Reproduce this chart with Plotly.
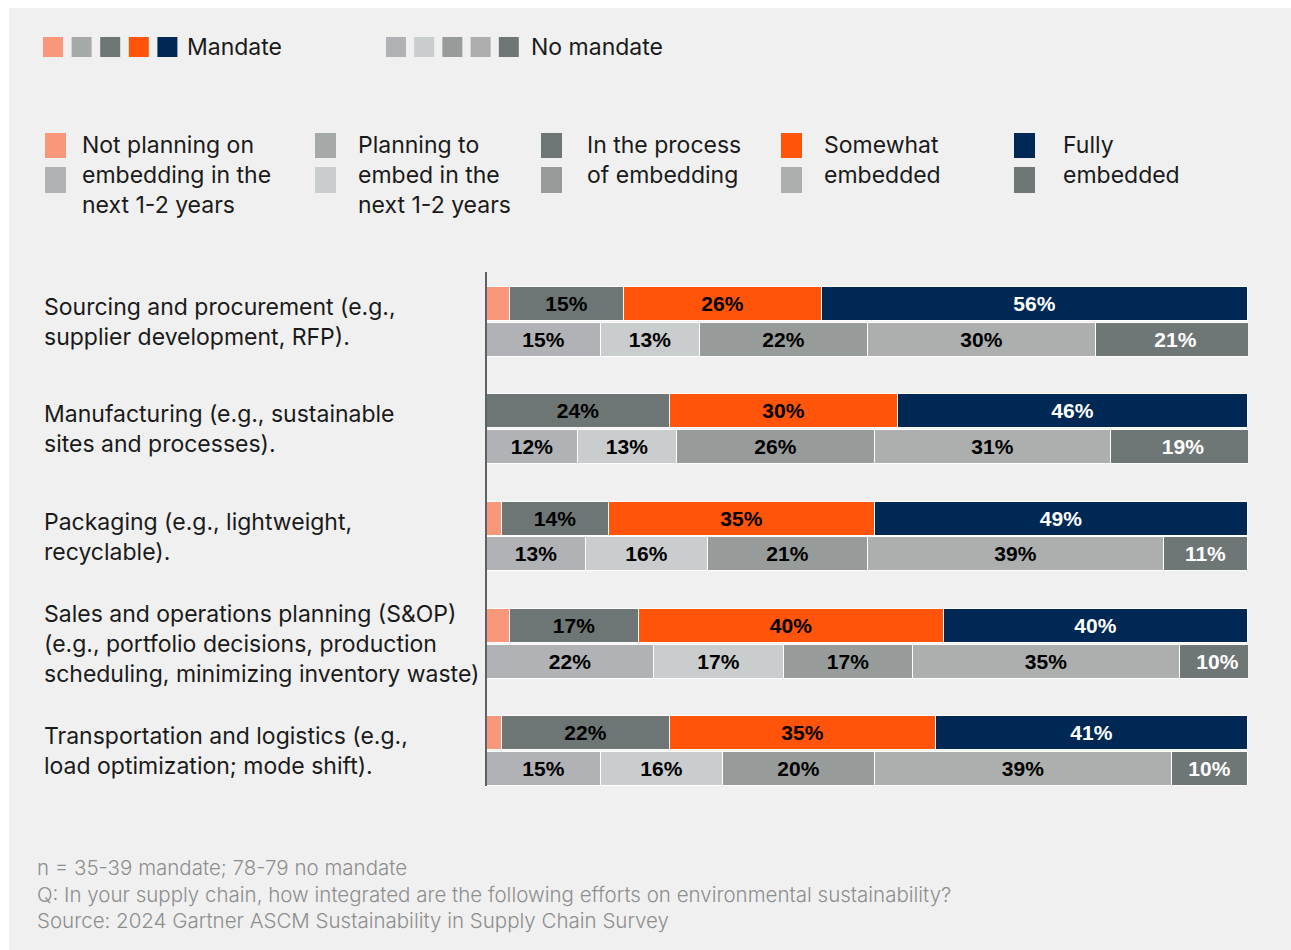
import plotly.graph_objects as go

# ---- data ----
categories = [
    "Sourcing and procurement (e.g.,<br>supplier development, RFP).",
    "Manufacturing (e.g., sustainable<br>sites and processes).",
    "Packaging (e.g., lightweight,<br>recyclable).",
    "Sales and operations planning (S&OP)<br>(e.g., portfolio decisions, production<br>scheduling, minimizing inventory waste)",
    "Transportation and logistics (e.g.,<br>load optimization; mode shift).",
]
statuses = ["Not planning on embedding in the next 1-2 years",
            "Planning to embed in the next 1-2 years",
            "In the process of embedding",
            "Somewhat embedded",
            "Fully embedded"]

# Mandate respondents (% per status, per category)
mandate_not_planning = [3, 0, 2, 3, 2]
mandate_planning = [0, 0, 0, 0, 0]
mandate_in_process = [15, 24, 14, 17, 22]
mandate_somewhat = [26, 30, 35, 40, 35]
mandate_fully = [56, 46, 49, 40, 41]

# No-mandate respondents
nomandate_not_planning = [15, 12, 13, 22, 15]
nomandate_planning = [13, 13, 16, 17, 16]
nomandate_in_process = [22, 26, 21, 17, 20]
nomandate_somewhat = [30, 31, 39, 35, 39]
nomandate_fully = [21, 19, 11, 10, 10]

legend_labels = ["Not planning on<br>embedding in the<br>next 1-2 years",
                 "Planning to<br>embed in the<br>next 1-2 years",
                 "In the process<br>of embedding",
                 "Somewhat<br>embedded",
                 "Fully<br>embedded"]

footer_lines = [
    "n = 35-39 mandate; 78-79 no mandate",
    "Q: In your supply chain, how integrated are the following efforts on environmental sustainability?",
    "Source: 2024 Gartner ASCM Sustainability in Supply Chain Survey",
]

# ---- styling ----
mandate_colors = ["#F9977A", "#A5A9A8", "#6E7675", "#FF540A", "#002855"]
nomandate_colors = ["#B1B2B5", "#CACDCE", "#979C9B", "#ACAFAE", "#6F7676"]
mandate_text_colors = ["#000000", "#000000", "#000000", "#000000", "#FFFFFF"]
nomandate_text_colors = ["#000000", "#000000", "#000000", "#000000", "#FFFFFF"]

W, H = 1291, 950
PL, PR, PT, PB = 487, 1248, 272, 786  # plot area in pixels
BG = "#F0F0F0"
LABEL_FONT = "Inter, Roboto, Arial, sans-serif"
BAR_FONT = "Liberation Sans, Arial, sans-serif"
LABEL_SIZE = 23


def px(x):
    return (x - PL) / (PR - PL)


def py(y):
    return (PB - y) / (PB - PT)


mandate_series = [mandate_not_planning, mandate_planning, mandate_in_process,
                  mandate_somewhat, mandate_fully]
nomandate_series = [nomandate_not_planning, nomandate_planning, nomandate_in_process,
                    nomandate_somewhat, nomandate_fully]

n = len(categories)
y_mandate = [3 * i for i in range(n)]
y_nomandate = [3 * i + 1 for i in range(n)]

fig = go.Figure()


def add_group(series, colors, text_colors, ys, group):
    for k, vals in enumerate(series):
        texts = [f"{v}%" if v >= 5 else "" for v in vals]
        fig.add_trace(go.Bar(
            x=vals, y=ys, orientation="h", width=0.95,
            name=f"{group}: {statuses[k]}",
            marker=dict(color=colors[k], line=dict(color="#FFFFFF", width=1)),
            text=texts, textposition="inside", insidetextanchor="middle",
            textangle=0, constraintext="none",
            textfont=dict(family=BAR_FONT, size=21, color=text_colors[k], weight="bold"),
            showlegend=False, hoverinfo="skip",
        ))


add_group(mandate_series, mandate_colors, mandate_text_colors, y_mandate, "Mandate")
add_group(nomandate_series, nomandate_colors, nomandate_text_colors, y_nomandate, "No mandate")

shapes = []
annotations = []

# page background panel
shapes.append(dict(type="rect", xref="paper", yref="paper",
                   x0=px(9), x1=px(W + 5), y0=py(H + 5), y1=py(8),
                   fillcolor=BG, line=dict(width=0), layer="below"))

# category labels
for i, cat in enumerate(categories):
    annotations.append(dict(
        text=cat, xref="paper", yref="y", x=px(42), y=3 * i + 0.5,
        xanchor="left", yanchor="middle", align="left", showarrow=False,
        font=dict(family=LABEL_FONT, size=LABEL_SIZE, color="#1A1A1A"),
    ))

# top legend: group swatches
for j, c in enumerate(mandate_colors):
    x0 = 43 + j * 28.6
    shapes.append(dict(type="rect", xref="paper", yref="paper",
                       x0=px(x0), x1=px(x0 + 20), y0=py(57), y1=py(37),
                       fillcolor=c, line=dict(width=0)))
annotations.append(dict(text="Mandate", xref="paper", yref="paper",
                        x=px(185), y=py(47), xanchor="left", yanchor="middle",
                        showarrow=False, font=dict(family=LABEL_FONT, size=LABEL_SIZE, color="#1A1A1A")))
for j, c in enumerate(nomandate_colors):
    x0 = 386 + j * 28.2
    shapes.append(dict(type="rect", xref="paper", yref="paper",
                       x0=px(x0), x1=px(x0 + 20), y0=py(57), y1=py(37),
                       fillcolor=c, line=dict(width=0)))
annotations.append(dict(text="No mandate", xref="paper", yref="paper",
                        x=px(529), y=py(47), xanchor="left", yanchor="middle",
                        showarrow=False, font=dict(family=LABEL_FONT, size=LABEL_SIZE, color="#1A1A1A")))

# status legend: paired swatches with label
sw_x = [45, 315, 541, 781, 1014]
tx_x = [80, 356, 585, 822, 1061]
for k in range(5):
    shapes.append(dict(type="rect", xref="paper", yref="paper",
                       x0=px(sw_x[k]), x1=px(sw_x[k] + 21), y0=py(158), y1=py(133),
                       fillcolor=mandate_colors[k], line=dict(width=0)))
    shapes.append(dict(type="rect", xref="paper", yref="paper",
                       x0=px(sw_x[k]), x1=px(sw_x[k] + 21), y0=py(193), y1=py(167),
                       fillcolor=nomandate_colors[k], line=dict(width=0)))
    annotations.append(dict(text=legend_labels[k], xref="paper", yref="paper",
                            x=px(tx_x[k]), y=py(129), xanchor="left", yanchor="top",
                            align="left", showarrow=False,
                            font=dict(family=LABEL_FONT, size=LABEL_SIZE, color="#1A1A1A")))

# footer
for j, line in enumerate(footer_lines):
    annotations.append(dict(text=line, xref="paper", yref="paper",
                            x=px(35), y=py(868 + 26 * j), xanchor="left", yanchor="middle",
                            showarrow=False,
                            font=dict(family=LABEL_FONT, size=20.5, color="#8E8E8E", weight=300)))

fig.update_layout(
    width=W, height=H,
    margin=dict(l=PL, r=W - PR, t=PT, b=H - PB, pad=0),
    barmode="stack", bargap=0,
    paper_bgcolor="#FFFFFF", plot_bgcolor=BG,
    shapes=shapes, annotations=annotations,
    xaxis=dict(range=[0, 100], visible=False, fixedrange=True),
    yaxis=dict(range=[13.475, -0.895], showticklabels=False, showgrid=False,
               zeroline=False, showline=True, linecolor="#5C6263", linewidth=2,
               ticks="", fixedrange=True),
)

fig.write_html("out.html", config={"displayModeBar": False})
